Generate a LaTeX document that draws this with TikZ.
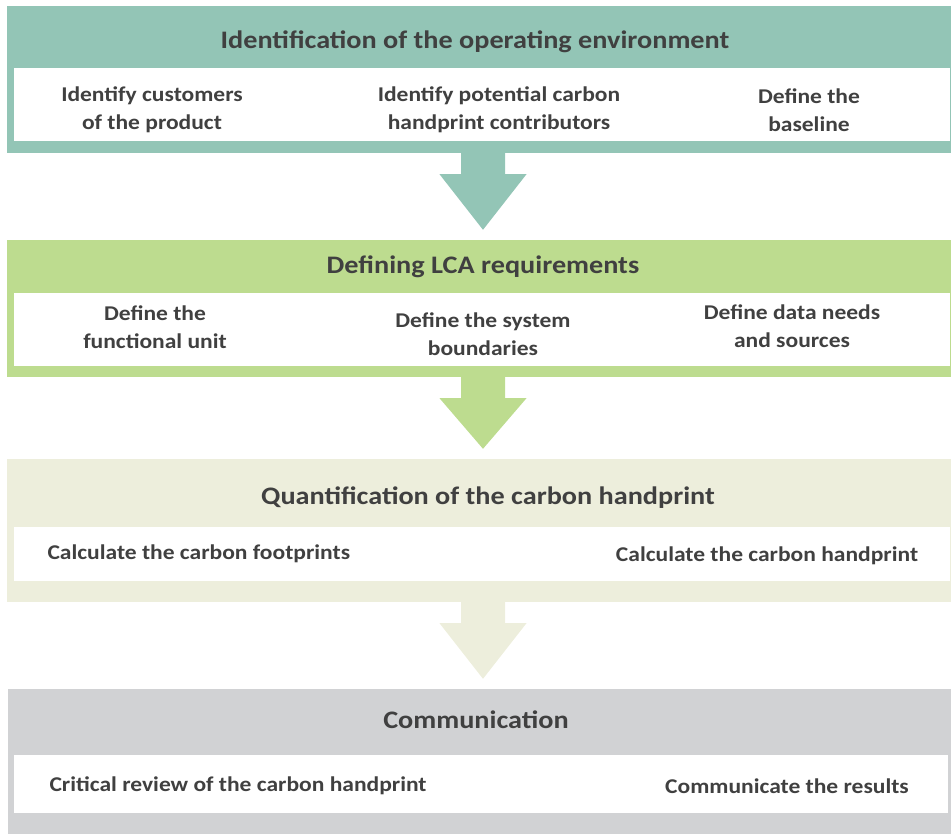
\documentclass[tikz,border=0pt]{standalone}
\usepackage{fontspec}
\setmainfont{Carlito}[FakeStretch=1.12]
\usetikzlibrary{calc}
\definecolor{tealc}{HTML}{93C5B6}
\definecolor{greenc}{HTML}{BDDC8F}
\definecolor{creamc}{HTML}{EDEEDC}
\definecolor{greyc}{HTML}{D1D2D4}
\definecolor{textc}{HTML}{404040}
\tikzset{
  panel/.style={inner sep=0pt, minimum width=944pt},
  inbox/.style={fill=white, inner sep=0pt, minimum width=936pt},
  title/.style={text=textc, font=\bfseries\fontsize{25.2}{30}\selectfont},
  item/.style={text=textc, align=center, font=\bfseries\fontsize{21}{28}\selectfont}
}
\begin{document}
\begin{tikzpicture}[x=1pt,y=-1pt]
	\useasboundingbox (0,0) rectangle (951,834);
	% panels
	\node[panel, fill=tealc,  minimum height=147pt] (p1) at (479,79.5) {};
	\node[panel, fill=greenc, minimum height=137pt] (p2) at (479,308.5) {};
	\node[panel, fill=creamc, minimum height=143pt] (p3) at (479,530.5) {};
	\node[panel, fill=greyc,  minimum height=145pt, minimum width=943pt] (p4) at (479.5,761.5) {};
	% white inner boxes
	\node[inbox, minimum height=73pt] (w1) at (482,104.5) {};
	\node[inbox, minimum height=73pt] (w2) at (482,329.5) {};
	\node[inbox, minimum height=54pt] (w3) at (482,554) {};
	\node[inbox, minimum height=58pt, minimum width=934pt] (w4) at (481,784) {};
	% arrows between the panels
	\foreach \a/\b/\c in {p1/p2/tealc, p2/p3/greenc, p3/p4/creamc}
	  {
	    \coordinate (top) at ($(\a.south)+(4,-1)$);
	    \coordinate (tip) at ($(top |- \b.north)+(0,-10)$);
	    \fill[\c] ($(top)+(-22,0)$) -- ($(top)+(-22,22)$) -- ($(top)+(-43.5,22)$)
	      -- (tip) -- ($(top)+(43.5,22)$) -- ($(top)+(22,22)$) -- ($(top)+(22,0)$) -- cycle;
	  }
	% titles
	\node[title] (t1) at (475,42) {Identification of the operating environment};
	\node[title] (t2) at (483,267) {Defining LCA requirements};
	\node[title] (t3) at (488,498) {Quantification of the carbon handprint};
	\node[title] (t4) at (476,720) {Communication};
	% steps
	\node[item] (a1) at (152,110) {Identify customers\\of the product};
	\node[item] (a2) at (499,110) {Identify potential carbon\\handprint contributors};
	\node[item] (a3) at (809,110) {Define the\\baseline};
	\node[item] (b1) at (155,327) {Define the\\functional unit};
	\node[item] (b2) at (483,334) {Define the system\\boundaries};
	\node[item] (b3) at (792,326) {Define data needs\\and sources};
	\node[item, anchor=west] (c1) at (44,554) {Calculate the carbon footprints};
	\node[item] (c2) at (767,556) {Calculate the carbon handprint};
	\node[item, anchor=west] (d1) at (46,786) {Critical review of the carbon handprint};
	\node[item] (d2) at (787,786) {Communicate the results};
\end{tikzpicture}
\end{document}
